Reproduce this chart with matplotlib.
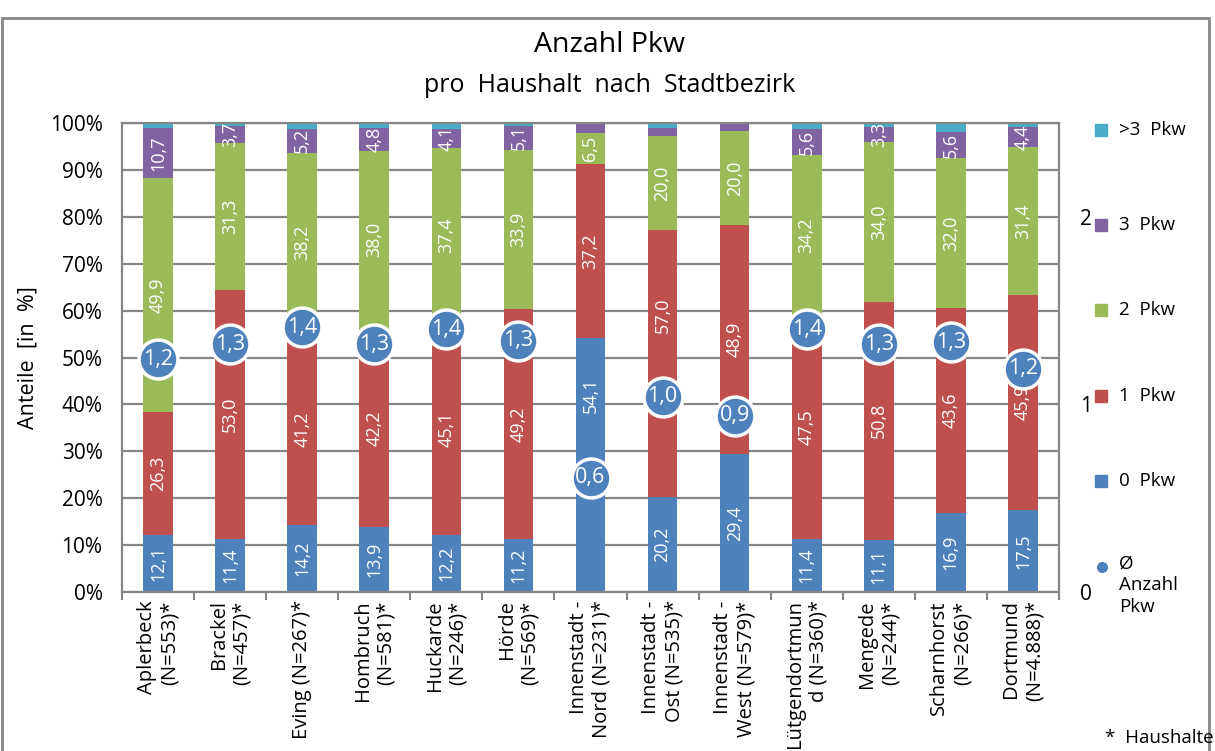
import matplotlib
matplotlib.use('Agg')
import matplotlib.pyplot as plt
import numpy as np
from matplotlib.patches import Rectangle

plt.rcParams['font.family'] = ['Open Sans', 'DejaVu Sans']

# data
districts = ['Aplerbeck\n(N=553)*', 'Brackel\n(N=457)*', 'Eving (N=267)*',
             'Hombruch\n(N=581)*', 'Huckarde\n(N=246)*', 'Hörde\n(N=569)*',
             'Innenstadt -\nNord (N=231)*', 'Innenstadt -\nOst (N=535)*',
             'Innenstadt -\nWest (N=579)*', 'Lütgendortmun\nd (N=360)*',
             'Mengede\n(N=244)*', 'Scharnhorst\n(N=266)*', 'Dortmund\n(N=4.888)*']
pkw0 = [12.1, 11.4, 14.2, 13.9, 12.2, 11.2, 54.1, 20.2, 29.4, 11.4, 11.1, 16.9, 17.5]
pkw1 = [26.3, 53.0, 41.2, 42.2, 45.1, 49.2, 37.2, 57.0, 48.9, 47.5, 50.8, 43.6, 45.9]
pkw2 = [49.9, 31.3, 38.2, 38.0, 37.4, 33.9, 6.5, 20.0, 20.0, 34.2, 34.0, 32.0, 31.4]
pkw3 = [10.7, 3.7, 5.2, 4.8, 4.1, 5.1, 2.2, 1.7, 1.7, 5.6, 3.3, 5.6, 4.4]
pkw4 = [1.0, 0.6, 1.2, 1.1, 1.2, 0.6, 0.0, 1.1, 0.0, 1.3, 0.8, 1.9, 0.8]
avg_pkw = [1.24, 1.32, 1.41, 1.32, 1.40, 1.34, 0.61, 1.04, 0.94, 1.40, 1.32, 1.33, 1.19]

series_labels = ['0  Pkw', '1  Pkw', '2  Pkw', '3  Pkw', '>3  Pkw']
series_colors = ['#4F81BD', '#C0504D', '#9BBB59', '#8064A2', '#4BACC6']
avg_label = 'Ø\nAnzahl\nPkw'
grid_c = '#868686'
AVG_MAX = 2.5

W, H = 1215, 751
fig = plt.figure(figsize=(W / 100, H / 100), dpi=100)
ax = fig.add_axes([122 / W, 1 - 592 / H, (1059 - 122) / W, (592 - 123) / H])

x = np.arange(len(districts))
bottom = np.zeros(len(districts))
for k, (vals, col) in enumerate(zip([pkw0, pkw1, pkw2, pkw3, pkw4], series_colors)):
    vals = np.array(vals)
    ax.bar(x, vals, 0.41, bottom=bottom, color=col, zorder=2)
    if k < 4:
        for xi, b, v, a in zip(x, bottom, vals, avg_pkw):
            if v < 3:
                continue
            yc = b + v / 2
            circ = a / AVG_MAX * 100
            # label pushed above the circle when the circle sits just below it
            if 0 <= yc - circ < 10:
                yc = circ + 17.5
            ax.text(xi, yc, f'{v:.1f}'.replace('.', ','), rotation=90,
                    ha='center', va='center', color='white', fontsize=13, zorder=4)
    bottom += vals

ax.set_xlim(-0.5, len(districts) - 0.5)
ax.set_ylim(0, 100)
ax.set_yticks(np.arange(0, 101, 10))
ax.set_yticklabels([f'{t}%' for t in range(0, 101, 10)], fontsize=15)
ax.yaxis.grid(True, color=grid_c, lw=1.6, zorder=0)
ax.set_axisbelow(True)
ax.tick_params(axis='y', length=0, pad=14)
ax.set_ylabel('Anteile  [in  %]', fontsize=15.5, labelpad=8)

ax.set_xticks(x)
ax.set_xticklabels(districts, rotation=90, fontsize=14.5, va='top', ha='center',
                   multialignment='right')
ax.set_xticks(np.arange(-0.5, len(districts)), minor=True)
ax.tick_params(axis='x', which='major', length=0, pad=6)
ax.tick_params(axis='x', which='minor', length=6, color=grid_c, width=1.5)
for s in ax.spines.values():
    s.set_color(grid_c)
    s.set_linewidth(1.6)

# average number of cars on secondary axis
ax2 = ax.twinx()
ax2.set_ylim(0, AVG_MAX)
ax2.set_yticks([0, 1, 2])
ax2.set_yticklabels(['0', '1', '2'], fontsize=15)
ax2.tick_params(axis='y', length=0, pad=15)
for s in ax2.spines.values():
    s.set_visible(False)
ax2.plot(x, avg_pkw, 'o', ms=28, mfc=series_colors[0], mec='white', mew=2.5,
         ls='none', zorder=3)
for xi, v in zip(x, avg_pkw):
    ax2.text(xi, v, f'{v:.1f}'.replace('.', ','), ha='center', va='center',
             color='white', fontsize=15.5, zorder=6)

# titles
fig.text(610 / W, 1 - 45 / H, 'Anzahl Pkw', ha='center', va='center', fontsize=20.5)
fig.text(610 / W, 1 - 86 / H, 'pro  Haushalt  nach  Stadtbezirk', ha='center',
         va='center', fontsize=18)

# legend on the right
leg_y = [130, 225, 310, 396, 481]
for lab, col, yy in zip(series_labels[::-1], series_colors[::-1], leg_y):
    fig.add_artist(Rectangle(((1101 - 6) / W, 1 - (yy + 6) / H), 12 / W, 12 / H,
                             color=col, transform=fig.transFigure))
    fig.text(1119 / W, 1 - yy / H, lab, ha='left', va='center', fontsize=13.5)
fig.add_artist(plt.Line2D([1102 / W], [1 - 567 / H], marker='o', ms=7,
                          color=series_colors[0], transform=fig.transFigure))
fig.text(1119 / W, 1 - 555 / H, avg_label, ha='left', va='top', fontsize=13.5,
         linespacing=1.25)
fig.text(1105 / W, 1 - 738 / H, '*  Haushalte', ha='left', va='center', fontsize=13.5)

# chart area frame
fig.add_artist(Rectangle((1.5 / W, -0.05), (1209 - 1.5) / W, 1.05 - 18 / H,
                         fill=False, ec=grid_c, lw=2, transform=fig.transFigure))

fig.savefig('out.png', dpi=100)
